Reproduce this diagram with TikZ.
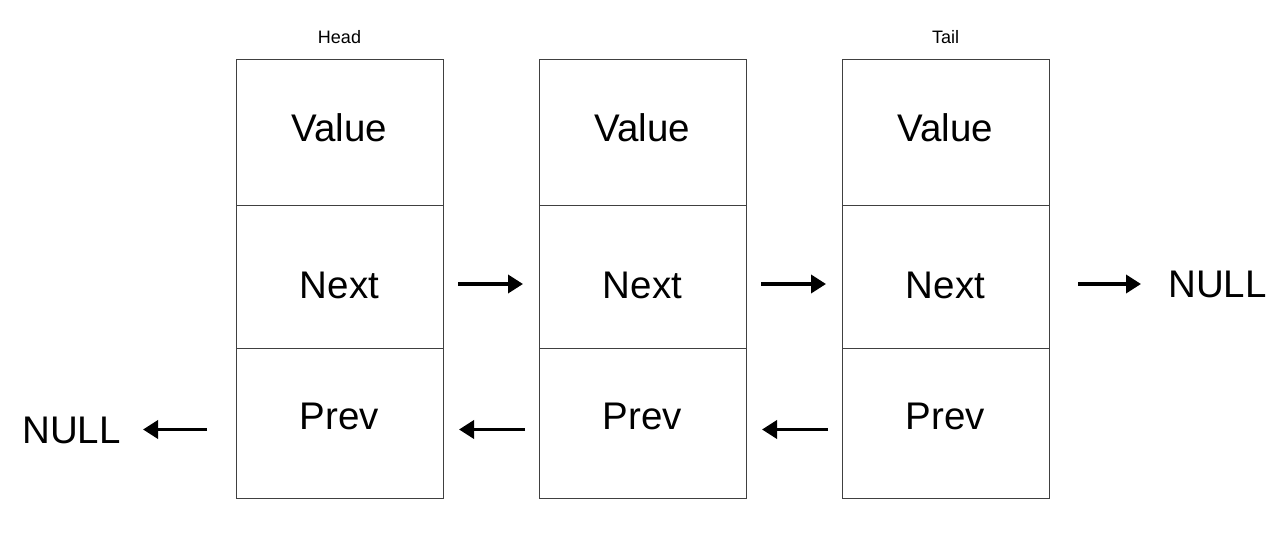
\documentclass[tikz,border=0pt]{standalone}
\usepackage{fontspec}
\setmainfont{Liberation Sans}
\usetikzlibrary{arrows.meta}
\begin{document}
\begin{tikzpicture}[x=1pt,y=-1pt,
  cell/.style={draw=black!75,line width=1pt,minimum width=207pt,inner sep=0pt,anchor=north west},
  lbl/.style={font=\fontsize{38.5}{40}\selectfont,anchor=base,inner sep=0pt},
  tag/.style={font=\fontsize{18}{20}\selectfont,anchor=base,inner sep=0pt},
  link/.style={line width=3.6pt,-{Triangle[length=15pt,width=18pt]}}]
\useasboundingbox (0,0) rectangle (1284,537);
% three list nodes, each split into value / next / prev cells
\foreach \i/\x in {1/236,2/539,3/842}{
  \node[cell,minimum height=146pt] (v\i) at (\x,59) {};
  \node[cell,minimum height=143pt] (n\i) at (\x,205) {};
  \node[cell,minimum height=150pt] (p\i) at (\x,348) {};
  \node[lbl] (vt\i) at (\x+103.5,142) {Value};
  \node[lbl] (nt\i) at (\x+103.5,298) {Next};
  \node[lbl] (pt\i) at (\x+103.5,429) {Prev};
}
\node[tag] (head) at (339.5,44) {Head};
\node[tag] (tail) at (945.5,44) {Tail};
\node[lbl,anchor=base west] (nullR) at (1168,297) {NULL};
\node[lbl,anchor=base east] (nullL) at (121,443) {NULL};
% end points of the links to NULL
\coordinate (r0) at ([xshift=28pt,yshift=-7pt]n3.east);
\coordinate (r1) at (r0 -| nullR.west);
\coordinate (l0) at ([xshift=-29pt,yshift=-6pt]p1.west);
\coordinate (l1) at (l0 -| nullL.east);
% forward links
\draw[link] ([xshift=14pt,yshift=-7pt]n1.east) -- ([xshift=-16pt,yshift=-7pt]n2.west);
\draw[link] ([xshift=14pt,yshift=-7pt]n2.east) -- ([xshift=-16pt,yshift=-7pt]n3.west);
\draw[link] (r0) -- ([xshift=-27pt]r1);
% backward links
\draw[link] ([xshift=-14pt,yshift=-6pt]p2.west) -- ([xshift=15pt,yshift=-6pt]p1.east);
\draw[link] ([xshift=-14pt,yshift=-6pt]p3.west) -- ([xshift=15pt,yshift=-6pt]p2.east);
\draw[link] (l0) -- ([xshift=22pt]l1);
\end{tikzpicture}
\end{document}
